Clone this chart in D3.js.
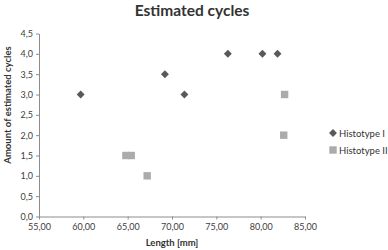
<html>
<head>
<style>
  body { margin: 0; background: #fff; }
  text { font-family: Lato, "Open Sans", sans-serif; fill: #333; }
  .axis path, .axis line { stroke: #8c8c8c; }
  .axis text { font-size: 9px; fill: #404040; }
</style>
</head>
<body>
<svg id="chart" width="388" height="250"></svg>
<script src="https://cdn.jsdelivr.net/npm/d3@7"></script>
<script>
let histo1X = [59.7, 69.2, 71.4, 76.3, 80.2, 81.9]
let histo1Y = [3.0, 3.5, 3.0, 4.0, 4.0, 4.0]
let histo2X = [64.8, 65.4, 67.2, 82.6, 82.7]
let histo2Y = [1.5, 1.5, 1.0, 2.0, 3.0]
let seriesNames = ["Histotype I", "Histotype II"]
let xTicks = [55, 60, 65, 70, 75, 80, 85]
let yTicks = [0, 0.5, 1, 1.5, 2, 2.5, 3, 3.5, 4, 4.5]

let svg = d3.select("#chart")
let padLeft = 39, padRight = 305, padTop = 33.5, padBottom = 216.5

let x = d3.scaleLinear().domain([55, 85]).range([padLeft, padRight])
let y = d3.scaleLinear().domain([0, 4.5]).range([padBottom, padTop])
let comma = (v, n) => v.toFixed(n).replace(".", ",")

svg.append("g")
    .attr("class", "axis")
    .attr("transform", "translate(0," + padBottom + ")")
    .call(d3.axisBottom(x).tickValues(xTicks).tickSizeInner(3).tickSizeOuter(0).tickPadding(4).tickFormat(d => comma(d, 2)))

svg.append("g")
    .attr("class", "axis")
    .attr("transform", "translate(" + padLeft + ",0)")
    .call(d3.axisLeft(y).tickValues(yTicks).tickSizeInner(3).tickSizeOuter(0).tickPadding(3).tickFormat(d => comma(d, 1)))

let diamond = d3.symbol().type(d3.symbolDiamond2).size(40)
let dColor = "#595959", sColor = "#ababab"

svg.selectAll(".h2")
    .data(histo2X.map((v, i) => [v, histo2Y[i]]))
    .enter().append("rect")
    .attr("x", d => x(d[0]) - 3.7)
    .attr("y", d => y(d[1]) - 3.7)
    .attr("width", 7.4).attr("height", 7.4)
    .attr("fill", sColor)

svg.selectAll(".h1")
    .data(histo1X.map((v, i) => [v, histo1Y[i]]))
    .enter().append("path")
    .attr("d", diamond)
    .attr("transform", d => "translate(" + x(d[0]) + "," + y(d[1]) + ")")
    .attr("fill", dColor)

// legend
let lg = svg.append("g").attr("transform", "translate(333,133)")
lg.append("path").attr("d", diamond).attr("fill", dColor)
lg.append("rect").attr("x", -3.7).attr("y", 13.3).attr("width", 7.4).attr("height", 7.4).attr("fill", sColor)
lg.selectAll("text").data(seriesNames).enter().append("text")
    .attr("x", 6).attr("y", (d, i) => i * 17 + 3.5)
    .style("font-size", "9.5px")
    .text(d => d)

svg.append("text")
    .attr("x", 192).attr("y", 16)
    .attr("text-anchor", "middle")
    .style("font-size", "15.5px").style("font-weight", "bold")
    .text("Estimated cycles")

svg.append("text")
    .attr("x", 172).attr("y", 246)
    .attr("text-anchor", "middle")
    .style("font-size", "9.5px").style("font-weight", "bold")
    .text("Length [mm]")

svg.append("text")
    .attr("transform", "translate(11,105) rotate(-90)")
    .attr("text-anchor", "middle")
    .style("font-size", "9.5px").style("font-weight", "bold")
    .text("Amount of estimated cycles")
</script>
</body>
</html>
